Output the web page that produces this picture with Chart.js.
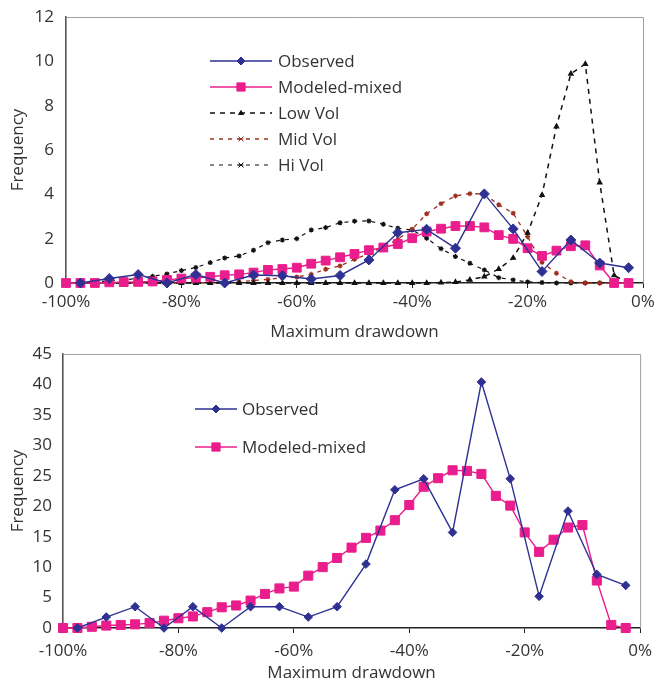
<!DOCTYPE html>
<html lang="en">
<head>
    <meta charset="UTF-8">
    <title>Maximum drawdown frequency</title>
    <script src="https://cdn.jsdelivr.net/npm/chart.js"></script>
    <style>
        html, body {
            margin: 0;
            padding: 0;
            background: #fff;
        }
        canvas {
            display: block;
        }
    </style>
</head>
<body>
    <canvas id="topChart" width="660" height="340"></canvas>
    <canvas id="bottomChart" width="660" height="341"></canvas>

    <script>
        // bin positions (percent drawdown)
        const fineBins = [-100, -97.5, -95, -92.5, -90, -87.5, -85, -82.5, -80, -77.5,
            -75, -72.5, -70, -67.5, -65, -62.5, -60, -57.5, -55, -52.5,
            -50, -47.5, -45, -42.5, -40, -37.5, -35, -32.5, -30, -27.5,
            -25, -22.5, -20, -17.5, -15, -12.5, -10, -7.5, -5, -2.5];
        const observedBins = [-97.5, -92.5, -87.5, -82.5, -77.5, -72.5, -67.5, -62.5, -57.5, -52.5,
            -47.5, -42.5, -37.5, -32.5, -27.5, -22.5, -17.5, -12.5, -7.5, -2.5];

        // top panel
        const topObserved = [0, 0.2, 0.38, 0, 0.38, 0, 0.36, 0.33, 0.18, 0.34,
            1.04, 2.27, 2.42, 1.57, 4.02, 2.44, 0.52, 1.94, 0.9, 0.69];
        const topModeled = [0, 0, 0, 0.03, 0.04, 0.05, 0.07, 0.14, 0.2, 0.24,
            0.28, 0.35, 0.39, 0.47, 0.59, 0.63, 0.69, 0.87, 1.01, 1.16,
            1.31, 1.48, 1.6, 1.76, 2.02, 2.32, 2.45, 2.57, 2.57, 2.51,
            2.16, 1.99, 1.57, 1.22, 1.46, 1.66, 1.7, 0.79, 0, 0];
        const lowVol = [0, 0, 0, 0, 0, 0, 0, 0, 0, 0,
            0, 0, 0, 0, 0, 0, 0, 0, 0, 0,
            0, 0, 0, 0, 0, 0, 0.02, 0.04, 0.14, 0.29,
            0.63, 1.13, 2.26, 3.97, 7.06, 9.44, 9.88, 4.53, 0.34, 0];
        const midVol = [0, 0, 0, 0, 0, 0, 0, 0.01, 0.01, 0.02,
            0.02, 0.06, 0.06, 0.11, 0.16, 0.24, 0.27, 0.39, 0.62, 0.77,
            1.07, 1.33, 1.61, 1.97, 2.43, 3.12, 3.58, 3.93, 4.03, 4.02,
            3.53, 3.15, 2.09, 0.93, 0.44, 0.06, 0, 0, 0, 0];
        const hiVol = [0, 0, 0.04, 0.1, 0.15, 0.2, 0.3, 0.41, 0.56, 0.7,
            0.92, 1.13, 1.22, 1.48, 1.82, 1.94, 2.0, 2.39, 2.5, 2.72,
            2.79, 2.8, 2.65, 2.47, 2.39, 2.02, 1.55, 1.19, 0.89, 0.59,
            0.24, 0.14, 0.05, 0.02, 0, 0, 0, 0, 0, 0];

        // bottom panel
        const bottomObserved = [0, 1.8, 3.5, 0, 3.5, 0, 3.5, 3.5, 1.8, 3.5,
            10.5, 22.7, 24.5, 15.7, 40.4, 24.5, 5.2, 19.2, 8.8, 7.0];
        const bottomModeled = [0, 0, 0.2, 0.4, 0.5, 0.6, 0.8, 1.2, 1.6, 1.9,
            2.6, 3.4, 3.7, 4.5, 5.6, 6.5, 6.8, 8.6, 10.0, 11.5,
            13.2, 14.8, 16.0, 17.7, 20.2, 23.2, 24.6, 25.9, 25.8, 25.3,
            21.7, 20.1, 15.7, 12.5, 14.5, 16.5, 16.9, 7.8, 0.5, 0];

        const navy = '#2E3192';
        const pink = '#EA1D8C';
        const brown = '#9E2F20';
        const textColor = '#333';

        Chart.defaults.font.family = "'Open Sans', sans-serif";
        Chart.defaults.font.size = 17;
        Chart.defaults.color = textColor;

        function pairs(xs, ys) {
            return xs.map((x, i) => ({ x: x, y: ys[i] }));
        }

        function marker(ctx, style, x, y, r, fill, stroke) {
            ctx.save();
            ctx.fillStyle = fill;
            ctx.strokeStyle = stroke;
            ctx.lineWidth = 1;
            ctx.setLineDash([]);
            ctx.beginPath();
            if (style === 'rectRot') {
                ctx.moveTo(x, y - r); ctx.lineTo(x + r, y); ctx.lineTo(x, y + r); ctx.lineTo(x - r, y);
                ctx.closePath(); ctx.fill(); ctx.stroke();
            } else if (style === 'rect') {
                const s = r * Math.SQRT1_2;
                ctx.rect(x - s, y - s, 2 * s, 2 * s); ctx.fill(); ctx.stroke();
            } else if (style === 'triangle') {
                ctx.moveTo(x, y - r); ctx.lineTo(x + r, y + r * 0.6); ctx.lineTo(x - r, y + r * 0.6);
                ctx.closePath(); ctx.fill(); ctx.stroke();
            } else {
                ctx.moveTo(x - r, y - r); ctx.lineTo(x + r, y + r);
                ctx.moveTo(x - r, y + r); ctx.lineTo(x + r, y - r);
                if (style === 'star') { ctx.moveTo(x - r, y); ctx.lineTo(x + r, y); }
                ctx.stroke();
            }
            ctx.restore();
        }

        // legend drawn inside the plot, Excel style (line with marker in the middle)
        const innerLegend = {
            id: 'innerLegend',
            afterDraw(chart, args, opts) {
                const ctx = chart.ctx;
                chart.data.datasets.forEach((ds, i) => {
                    const y = opts.top + i * opts.step;
                    ctx.save();
                    ctx.strokeStyle = ds.borderColor;
                    ctx.lineWidth = ds.borderWidth;
                    ctx.setLineDash(ds.borderDash || []);
                    ctx.beginPath();
                    ctx.moveTo(opts.x1, y);
                    ctx.lineTo(opts.x2, y);
                    ctx.stroke();
                    ctx.restore();
                    marker(ctx, ds.pointStyle, (opts.x1 + opts.x2) / 2, y,
                        opts.sizes[i], ds.pointBackgroundColor, ds.pointBorderColor);
                    ctx.save();
                    ctx.fillStyle = textColor;
                    ctx.font = "17px 'Open Sans', sans-serif";
                    ctx.textBaseline = 'middle';
                    ctx.fillText(ds.label, opts.textX, y + 1);
                    ctx.restore();
                });
            }
        };

        // light grey top and right edges of the plot area
        const plotFrame = {
            id: 'plotFrame',
            beforeDatasetsDraw(chart) {
                const a = chart.chartArea;
                const ctx = chart.ctx;
                ctx.save();
                ctx.strokeStyle = '#9a9fa6';
                ctx.lineWidth = 1;
                ctx.beginPath();
                ctx.moveTo(a.left, a.top + 0.5);
                ctx.lineTo(a.right + 0.5, a.top + 0.5);
                ctx.lineTo(a.right + 0.5, a.bottom);
                ctx.stroke();
                ctx.restore();
            }
        };

        function solidSet(label, xs, ys, color, style, radius, width) {
            return {
                label: label,
                data: pairs(xs, ys),
                showLine: true,
                borderColor: color,
                borderWidth: width,
                pointStyle: style,
                pointRadius: radius,
                pointHoverRadius: radius,
                pointBackgroundColor: color,
                pointBorderColor: color,
                pointBorderWidth: 1,
                clip: false
            };
        }

        function dashedSet(label, xs, ys, color, style, radius, width, dash) {
            return {
                label: label,
                data: pairs(xs, ys),
                showLine: true,
                borderColor: color,
                borderWidth: width,
                borderDash: dash,
                pointStyle: style,
                pointRadius: radius,
                pointHoverRadius: radius,
                pointBackgroundColor: color,
                pointBorderColor: color,
                pointBorderWidth: 1.2,
                clip: false
            };
        }

        function makeOptions(cfg) {
            return {
                responsive: false,
                animation: false,
                devicePixelRatio: 1,
                layout: { padding: { top: cfg.padTop, right: cfg.padRight, left: 0, bottom: 0 } },
                plugins: {
                    legend: { display: false },
                    tooltip: { enabled: false },
                    innerLegend: cfg.legend
                },
                scales: {
                    x: {
                        type: 'linear',
                        min: -100,
                        max: 0,
                        afterFit: (scale) => { scale.height = cfg.xHeight; },
                        ticks: {
                            stepSize: 20,
                            padding: cfg.xPad,
                            maxRotation: 0,
                            callback: (v) => v + '%'
                        },
                        grid: {
                            drawOnChartArea: false,
                            drawTicks: true,
                            tickLength: 5,
                            color: '#222'
                        },
                        border: { display: true, color: '#222', width: 1.6 },
                        title: {
                            display: true,
                            text: 'Maximum drawdown',
                            padding: { top: 0, bottom: cfg.titlePad }
                        }
                    },
                    y: {
                        min: 0,
                        max: cfg.yMax,
                        afterFit: (scale) => {
                            scale.width = cfg.yWidth;
                            // let the layout padding alone decide where the plot starts
                            scale.paddingTop = 0;
                            scale.paddingBottom = 0;
                        },
                        ticks: { stepSize: cfg.yStep, padding: cfg.yPad },
                        grid: { display: false, drawTicks: false },
                        border: { display: true, color: '#555', width: 1.6 },
                        title: {
                            display: true,
                            text: 'Frequency',
                            padding: { top: 8, bottom: 0 }
                        }
                    }
                }
            };
        }

        new Chart(document.getElementById('topChart'), {
            type: 'scatter',
            data: {
                datasets: [
                    solidSet('Observed', observedBins, topObserved, navy, 'rectRot', 5, 1.4),
                    solidSet('Modeled-mixed', fineBins, topModeled, pink, 'rect', 6.2, 1.4),
                    dashedSet('Low Vol', fineBins, lowVol, '#111', 'triangle', 2.6, 1.5, [5, 5]),
                    dashedSet('Mid Vol', fineBins, midVol, brown, 'star', 2.5, 1.3, [4, 5]),
                    dashedSet('Hi Vol', fineBins, hiVol, '#111', 'star', 2.5, 1.2, [4, 5])
                ]
            },
            options: makeOptions({
                padTop: 17, padRight: 17, xHeight: 57, yWidth: 66,
                xPad: 4, yPad: 12, titlePad: -2, yMax: 12, yStep: 2,
                legend: { x1: 210, x2: 272, textX: 278, top: 61, step: 26, sizes: [4, 5.8, 2.5, 2.5, 2.5] }
            }),
            plugins: [plotFrame, innerLegend]
        });

        new Chart(document.getElementById('bottomChart'), {
            type: 'scatter',
            data: {
                datasets: [
                    solidSet('Observed', observedBins, bottomObserved, navy, 'rectRot', 4.3, 1.4),
                    solidSet('Modeled-mixed', fineBins, bottomModeled, pink, 'rect', 6.4, 1.4)
                ]
            },
            options: makeOptions({
                padTop: 14, padRight: 14, xHeight: 53, yWidth: 63,
                xPad: 8, yPad: 11, titlePad: -2, yMax: 45, yStep: 5,
                legend: { x1: 195, x2: 237, textX: 242, top: 69, step: 38, sizes: [4, 5.8] }
            }),
            plugins: [plotFrame, innerLegend]
        });
    </script>
</body>
</html>
